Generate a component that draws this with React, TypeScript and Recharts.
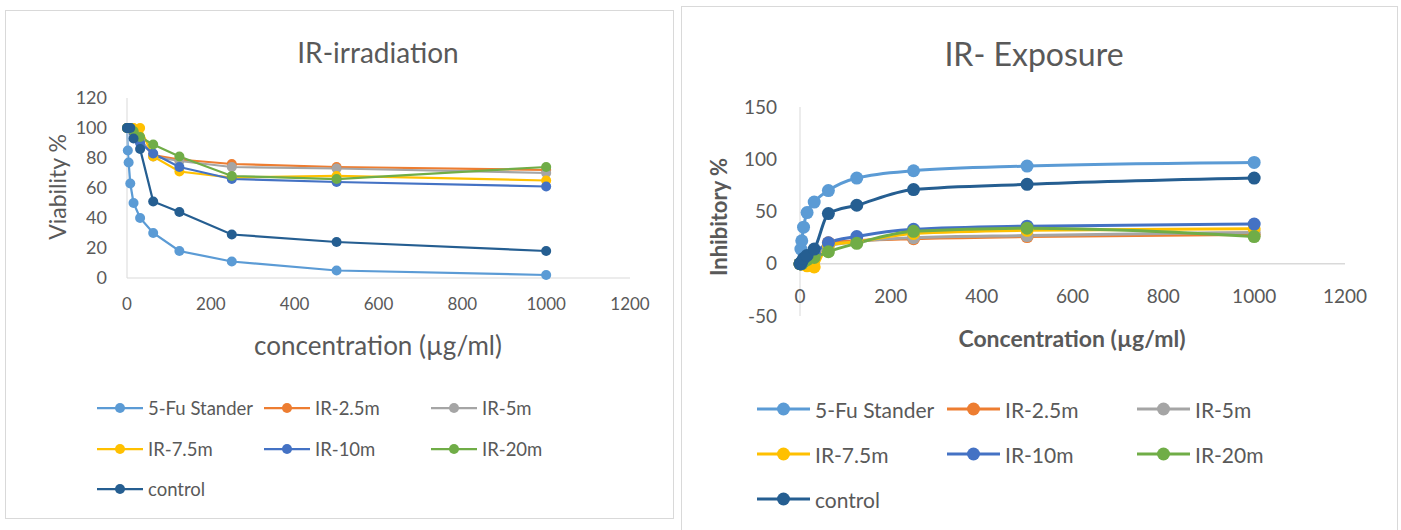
import { LineChart, Line, XAxis, YAxis, ReferenceLine } from "recharts";

const concentrations = [0, 1.95, 3.9, 7.8, 15.6, 31.25, 62.5, 125, 250, 500, 1000];
const seriesNames = ["5-Fu Stander", "IR-2.5m", "IR-5m", "IR-7.5m", "IR-10m", "IR-20m", "control"];
const seriesColors = ["#5B9BD5", "#ED7D31", "#A5A5A5", "#FFC000", "#4472C4", "#70AD47", "#255E91"];
const xTicks = [0, 200, 400, 600, 800, 1000, 1200];

// viability % (IR-irradiation)
const viaFu = [100, 85, 77, 63, 50, 40, 30, 18, 11, 5, 2];
const via25 = [100, 100, 100, 100, 97, 92, 82, 79, 76, 74, 72];
const via5 = [100, 100, 100, 100, 98, 93, 81, 78, 74, 73, 70];
const via75 = [100, 100, 100, 100, 100, 100, 81, 71, 67, 68, 65];
const via10 = [100, 100, 100, 100, 97, 90, 83, 74, 66, 64, 61];
const via20 = [100, 100, 100, 100, 98, 94, 89, 81, 68, 66, 74];
const viaCtrl = [100, 100, 100, 100, 93, 86, 51, 44, 29, 24, 18];
const viaTicks = [0, 20, 40, 60, 80, 100, 120];

// inhibitory % (IR- Exposure)
const inhFu = [0, 14, 22, 35, 49, 59, 70, 82, 89, 93.5, 97];
const inh25 = [0, 0, 0, 2, 5, 8, 20, 22, 24, 26, 28];
const inh5 = [0, 0, 0, 2, 4, 7, 17, 21, 25, 27, 30];
const inh75 = [0, 0, 0, 0, -2, -3, 18, 21, 29, 32, 33.5];
const inh10 = [0, 0, 0, 2, 5, 10, 20, 26, 33, 36, 38];
const inh20 = [0, 0, 0, 2, 4, 6, 11.5, 19.5, 31, 34, 26];
const inhCtrl = [0, 0, 2, 5, 8, 14, 48, 56, 71, 76, 82];
const inhTicks = [-50, 0, 50, 100, 150];

const viaSeries = [viaFu, via25, via5, via75, via10, via20, viaCtrl];
const inhSeries = [inhFu, inh25, inh5, inh75, inh10, inh20, inhCtrl];

const build = (series: number[][]) =>
  concentrations.map((c, i) => {
    const row: any = { conc: c };
    seriesNames.forEach((n, k) => (row[n] = series[k][i]));
    return row;
  });

const viaData = build(viaSeries);
const inhData = build(inhSeries);

const GREY = "#595959";
const AXIS = "#d9d9d9";
const FONT = "Lato, 'Open Sans', sans-serif";

const UpTick = ({ x, y, payload }: any) => (
  <text x={x} y={y - 18} textAnchor="middle" dominantBaseline="middle" fill={GREY} fontSize={19} fontFamily={FONT}>
    {payload.value}
  </text>
);

function Legend({ left, top, colGap, rowGap, lineLen, r, fontSize, sw }: any) {
  return (
    <>
      {seriesNames.map((n, i) => {
        const col = i % 3;
        const row = Math.floor(i / 3);
        return (
          <div
            key={n}
            style={{
              position: "absolute",
              left: left + col * colGap,
              top: top + row * rowGap - 14,
              height: 28,
              display: "flex",
              alignItems: "center",
              fontSize,
              color: GREY,
              whiteSpace: "nowrap",
            }}
          >
            <svg width={lineLen} height={28} style={{ marginRight: 5 }}>
              <line x1={0} y1={14} x2={lineLen} y2={14} stroke={seriesColors[i]} strokeWidth={sw} />
              <circle cx={lineLen / 2} cy={14} r={r} fill={seriesColors[i]} />
            </svg>
            {n}
          </div>
        );
      })}
    </>
  );
}

export default function App() {
  return (
    <div style={{ position: "absolute", left: 0, top: 0, width: 1401, height: 530, background: "#fff", fontFamily: FONT, overflow: "hidden" }}>
      <div style={{ position: "absolute", left: 5, top: 10, width: 667, height: 507, border: `1px solid ${AXIS}` }} />
      <div style={{ position: "absolute", left: 681, top: 6, width: 715, height: 540, border: `1px solid ${AXIS}` }} />

      {/* left chart */}
      <div style={{ position: "absolute", left: 378, top: 52, transform: "translate(-50%,-50%)", fontSize: 28, color: GREY, whiteSpace: "nowrap" }}>
        IR-irradiation
      </div>
      <div style={{ position: "absolute", left: 57, top: 187, transform: "translate(-50%,-50%) rotate(-90deg)", fontSize: 23, color: GREY, whiteSpace: "nowrap" }}>
        Viability %
      </div>
      <div style={{ position: "absolute", left: 378, top: 345, transform: "translate(-50%,-50%)", fontSize: 26, color: GREY, whiteSpace: "nowrap" }}>
        concentration (µg/ml)
      </div>
      <div style={{ position: "absolute", left: 0, top: 0 }}>
        <LineChart width={680} height={380} data={viaData} margin={{ top: 98, right: 50, bottom: 72, left: 67 }}>
          <XAxis
            dataKey="conc"
            type="number"
            domain={[0, 1200]}
            ticks={xTicks}
            height={30}
            stroke={AXIS}
            tickLine={false}
            tickMargin={14}
            tick={{ fill: GREY, fontSize: 17, fontFamily: FONT }}
          />
          <YAxis
            domain={[0, 120]}
            ticks={viaTicks}
            width={60}
            stroke={AXIS}
            tickLine={false}
            tickMargin={14}
            tick={{ fill: GREY, fontSize: 18, fontFamily: FONT }}
          />
          {seriesNames.map((n, i) => (
            <Line
              key={n}
              type="linear"
              dataKey={n}
              stroke={seriesColors[i]}
              strokeWidth={2.25}
              dot={{ r: 5, fill: seriesColors[i], stroke: seriesColors[i], strokeWidth: 0 }}
              isAnimationActive={false}
            />
          ))}
        </LineChart>
      </div>
      <Legend left={97} top={408} colGap={167} rowGap={40.5} lineLen={46} r={5} fontSize={18.5} sw={2.25} />

      {/* right chart */}
      <div style={{ position: "absolute", left: 1034, top: 53, transform: "translate(-50%,-50%)", fontSize: 32, color: GREY, whiteSpace: "nowrap" }}>
        IR- Exposure
      </div>
      <div style={{ position: "absolute", left: 718, top: 217, transform: "translate(-50%,-50%) rotate(-90deg)", fontSize: 22, fontWeight: 700, color: GREY, whiteSpace: "nowrap" }}>
        Inhibitory %
      </div>
      <div style={{ position: "absolute", left: 1072, top: 338, transform: "translate(-50%,-50%)", fontSize: 23, fontWeight: 700, color: GREY, whiteSpace: "nowrap" }}>
        Concentration (µg/ml)
      </div>
      <div style={{ position: "absolute", left: 681, top: 0 }}>
        <LineChart width={719} height={380} data={inhData} margin={{ top: 107, right: 55, bottom: 34, left: 59 }}>
          <XAxis
            dataKey="conc"
            type="number"
            domain={[0, 1200]}
            ticks={xTicks}
            height={30}
            axisLine={false}
            tickLine={false}
            tickSize={0}
            tickMargin={0}
            tick={<UpTick />}
          />
          <YAxis
            domain={[-50, 150]}
            ticks={inhTicks}
            width={60}
            stroke={AXIS}
            tickLine={false}
            tickMargin={17}
            tick={{ fill: GREY, fontSize: 19, fontFamily: FONT }}
          />
          <ReferenceLine y={0} stroke={AXIS} strokeWidth={1.5} />
          {seriesNames.map((n, i) => (
            <Line
              key={n}
              type="monotone"
              dataKey={n}
              stroke={seriesColors[i]}
              strokeWidth={3}
              dot={{ r: 6.5, fill: seriesColors[i], stroke: seriesColors[i], strokeWidth: 0 }}
              isAnimationActive={false}
            />
          ))}
        </LineChart>
      </div>
      <Legend left={757} top={409} colGap={190} rowGap={45} lineLen={53} r={6.5} fontSize={21} sw={3} />
    </div>
  );
}
